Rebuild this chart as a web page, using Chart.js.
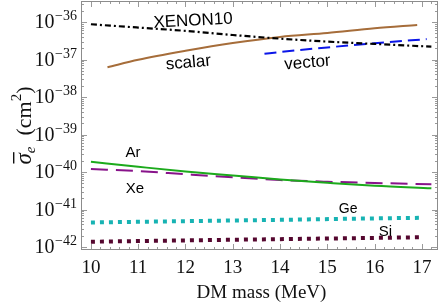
<!DOCTYPE html>
<html>
<head>
<meta charset="utf-8">
<script src="https://cdn.jsdelivr.net/npm/chart.js@4"></script>
<style>
  html, body { margin: 0; padding: 0; background: #fff; }
  canvas { display: block; }
</style>
</head>
<body>
<canvas id="dmChart" width="443" height="308"></canvas>
<script>
// -------------------------------
// DATA
// -------------------------------
const massTicks = [10, 11, 12, 13, 14, 15, 16, 17];
const sigmaDecades = [-42, -41, -40, -39, -38, -37, -36];

const xenonMass = [10, 11, 12, 13, 14, 15, 16, 17.2];
const xenonSigma = [8.7e-37, 7.1e-37, 5.8e-37, 4.5e-37, 3.6e-37, 3.0e-37, 2.6e-37, 2.2e-37];

const scalarMass = [10.35, 11, 12, 13, 14, 15, 16, 16.9];
const scalarSigma = [6.2e-38, 9.8e-38, 1.7e-37, 2.75e-37, 4.0e-37, 5.1e-37, 6.8e-37, 8.3e-37];

const vectorMass = [13.67, 14, 15, 16, 17.1];
const vectorSigma = [1.42e-37, 1.58e-37, 2.1e-37, 2.7e-37, 3.5e-37];

const targetMass = [10, 11, 12, 13, 14, 15, 16, 17.2];
const arSigma = [1.88e-40, 1.38e-40, 1.03e-40, 8.1e-41, 6.3e-41, 5.15e-41, 4.3e-41, 3.7e-41];
const xeSigma = [1.2e-40, 1.06e-40, 8.7e-41, 7.2e-41, 6.1e-41, 5.5e-41, 5.1e-41, 4.7e-41];

const semiMass = [10, 12, 14, 16, 17];
const geSigma = [4.5e-42, 4.9e-42, 5.3e-42, 5.8e-42, 6.0e-42];
const siSigma = [1.38e-42, 1.5e-42, 1.62e-42, 1.75e-42, 1.82e-42];

// curve labels: [text, mass, sigma, font size, rotation (deg)]
const curveLabels = [
    ["XENON10", 12.16, 1.07e-36, 17, -3],
    ["scalar", 12.06, 8.1e-38, 17, -5],
    ["vector", 14.58, 8.1e-38, 17, -5],
    ["Ar", 10.89, 3.2e-40, 15, 0],
    ["Xe", 10.93, 3.5e-41, 15, 0],
    ["Ge", 15.44, 1.02e-41, 14, 0],
    ["Si", 16.23, 2.5e-42, 15, 0]
];

const pts = (xs, ys) => xs.map((v, i) => ({ x: v, y: ys[i] }));

// -------------------------------
// FRAME, TICKS, LABELS
// -------------------------------
const SERIF = "'Liberation Serif', 'DejaVu Serif', serif";
const SANS = "'Liberation Sans', Arial, sans-serif";

const framePlugin = {
    id: "frame",
    afterDraw(chart) {
        const { ctx, chartArea: a, scales: { x, y } } = chart;
        ctx.save();

        // ticks inside the frame
        ctx.strokeStyle = "#9a9a9a";
        ctx.lineWidth = 1;
        ctx.beginPath();
        for (let v = 9.8; v <= 17.35; v += 0.2) {
            const px = Math.round(x.getPixelForValue(v)) + 0.5;
            const major = Math.abs(v - Math.round(v)) < 0.01;
            const len = major ? 6 : 3;
            ctx.moveTo(px, a.bottom); ctx.lineTo(px, a.bottom - len);
            ctx.moveTo(px, a.top); ctx.lineTo(px, a.top + len);
        }
        for (let d = -43; d <= -35; d++) {
            for (let k = 1; k <= 9; k++) {
                const val = k * Math.pow(10, d);
                if (val < y.min || val > y.max) continue;
                const py = Math.round(y.getPixelForValue(val)) + 0.5;
                const len = k === 1 ? 6 : 3;
                ctx.moveTo(a.left, py); ctx.lineTo(a.left + len, py);
                ctx.moveTo(a.right, py); ctx.lineTo(a.right - len, py);
            }
        }
        ctx.stroke();

        // frame
        ctx.strokeStyle = "#8c8c8c";
        ctx.strokeRect(a.left + 0.5, a.top + 0.5, a.right - a.left - 1, a.bottom - a.top - 1);

        // x tick labels
        ctx.fillStyle = "#111";
        ctx.font = "19px " + SERIF;
        ctx.textAlign = "center";
        ctx.textBaseline = "alphabetic";
        massTicks.forEach(v => ctx.fillText(String(v), x.getPixelForValue(v), a.bottom + 23));

        // y tick labels 10^n
        sigmaDecades.forEach(d => {
            const py = y.getPixelForValue(Math.pow(10, d));
            const sup = "\u2212" + String(-d);
            ctx.font = "14px " + SERIF;
            const wSup = ctx.measureText(sup).width;
            const xr = a.left - 4;
            ctx.textAlign = "left";
            ctx.fillText(sup, xr - wSup, py - 2);
            ctx.font = "20px " + SERIF;
            ctx.textAlign = "right";
            ctx.fillText("10", xr - wSup - 0.5, py + 6);
        });

        // x title
        ctx.font = "19px " + SERIF;
        ctx.textAlign = "center";
        ctx.fillText("DM mass (MeV)", (a.left + a.right) / 2 + 2, 298);

        // y title: sigma-bar_e (cm^2)
        ctx.save();
        ctx.translate(31, (a.top + a.bottom) / 2);
        ctx.rotate(-Math.PI / 2);
        ctx.textAlign = "left";
        const parts = [
            ["\u03C3", "italic 23px " + SERIF, 0],
            ["e", "italic 15px " + SERIF, 4],
            ["  (cm", "22px " + SERIF, 0],
            ["2", "15px " + SERIF, -10],
            [")", "22px " + SERIF, 0]
        ];
        let total = 0;
        parts.forEach(p => { ctx.font = p[1]; total += ctx.measureText(p[0]).width; });
        let cx = -total / 2;
        parts.forEach((p, i) => {
            ctx.font = p[1];
            ctx.fillText(p[0], cx, p[2]);
            const w = ctx.measureText(p[0]).width;
            if (i === 0) {
                ctx.fillRect(cx + 1, -18, w, 1.4);
            }
            cx += w;
        });
        ctx.restore();

        // curve labels
        ctx.fillStyle = "#000";
        curveLabels.forEach(([t, mx, sy, fs, rot]) => {
            ctx.save();
            ctx.translate(x.getPixelForValue(mx), y.getPixelForValue(sy));
            ctx.rotate(rot * Math.PI / 180);
            ctx.font = fs + "px " + SANS;
            ctx.textAlign = "center";
            ctx.textBaseline = "middle";
            ctx.fillText(t, 0, 0);
            ctx.restore();
        });

        ctx.restore();
    }
};

// -------------------------------
// CHART
// -------------------------------
new Chart(document.getElementById("dmChart"), {
    type: "line",
    data: {
        datasets: [
            { label: "XENON10", data: pts(xenonMass, xenonSigma), borderColor: "#000", borderWidth: 2.2, borderDash: [6, 3, 2, 3] },
            { label: "scalar", data: pts(scalarMass, scalarSigma), borderColor: "#a66d3a", borderWidth: 2 },
            { label: "vector", data: pts(vectorMass, vectorSigma), borderColor: "#0b16e8", borderWidth: 2, borderDash: [12, 6] },
            { label: "Ar", data: pts(targetMass, arSigma), borderColor: "#1caa1c", borderWidth: 2 },
            { label: "Xe", data: pts(targetMass, xeSigma), borderColor: "#88138a", borderWidth: 2, borderDash: [17, 8] },
            { label: "Ge", data: pts(semiMass, geSigma), borderColor: "#17b3b3", borderWidth: 4, borderDash: [4, 5] },
            { label: "Si", data: pts(semiMass, siSigma), borderColor: "#55072f", borderWidth: 4, borderDash: [4, 5] }
        ]
    },
    options: {
        responsive: false,
        animation: false,
        events: [],
        layout: { padding: { top: 1, right: 5, left: 0, bottom: 0 } },
        elements: {
            point: { radius: 0 },
            line: { cubicInterpolationMode: "monotone", fill: false, borderCapStyle: "butt" }
        },
        plugins: { legend: { display: false }, tooltip: { enabled: false } },
        scales: {
            x: {
                type: "linear", min: 9.79, max: 17.34,
                ticks: { display: false }, grid: { display: false }, border: { display: false },
                afterFit: s => { s.height = 58; }
            },
            y: {
                type: "logarithmic", min: Math.pow(10, -42.08), max: Math.pow(10, -35.44),
                ticks: { display: false }, grid: { display: false }, border: { display: false },
                afterFit: s => { s.width = 81; }
            }
        }
    },
    plugins: [framePlugin]
});
</script>
</body>
</html>
